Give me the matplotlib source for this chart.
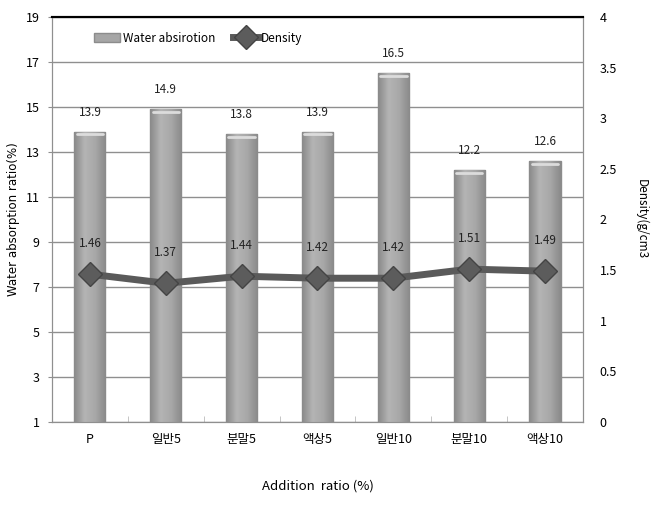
import matplotlib.pyplot as plt
import numpy as np
from matplotlib.colors import LinearSegmentedColormap

plt.rcParams['font.family'] = ['Noto Sans CJK KR', 'DejaVu Sans']

categories = ['P', '일반5', '분말5', '액상5', '일반10', '분말10', '액상10']
water_abs  = [13.9, 14.9, 13.8, 13.9, 16.5, 12.2, 12.6]
density    = [1.46, 1.37, 1.44, 1.42, 1.42, 1.51, 1.49]

fig = plt.figure(figsize=(6.51, 5.05), dpi=100)
ax = fig.add_axes([0.0799, 0.1644, 0.8156, 0.8019])
ax2 = ax.twinx()

x = np.arange(len(categories))
base = 1
barWidth = 0.41
bars = ax.bar(x, np.array(water_abs) - base, bottom=base, width=barWidth,
              color='#a6a6a6', edgecolor='#8c8c8c', linewidth=1,
              label='Water absirotion', zorder=3)

# cylinder-ish shading on each bar
cyl = LinearSegmentedColormap.from_list('cyl', ['#8a8a8a', '#b4b4b4', '#a8a8a8', '#8a8a8a'])
grad = np.linspace(0, 1, 64).reshape(1, -1)
for b in bars:
  x0, y0 = b.get_x(), b.get_y()
  im = ax.imshow(grad, extent=[x0, x0 + b.get_width(), y0, y0 + b.get_height()],
                 aspect='auto', cmap=cyl, zorder=3.1, interpolation='bicubic')
  im.set_clip_path(b)
  # light top cap
  ax.plot([x0 + 0.03, x0 + b.get_width() - 0.03], [y0 + b.get_height() - 0.12] * 2,
          color='#dcdcdc', linewidth=2, solid_capstyle='round', zorder=3.2)

for xi, v in zip(x, water_abs):
  ax.annotate(f'{v:.1f}', (xi, v), xytext=(0, 14), textcoords='offset points',
              ha='center', va='center', fontsize=8.5, color='#222222', zorder=5)

ax.set_xlim(-0.5, len(categories) - 0.5)
ax.set_ylim(1, 19)
ax.set_yticks(np.arange(1, 20, 2))
ax.yaxis.grid(True, color='#8f8f8f', linewidth=1, zorder=0)
ax.set_axisbelow(True)
ax.set_xticks(x)
ax.set_xticklabels(categories, fontsize=9)
ax.set_xticks(np.arange(0.5, len(categories) - 0.5, 1), minor=True)
ax.tick_params(axis='x', which='major', length=0, pad=8)
ax.tick_params(axis='x', which='minor', direction='in', length=4, color='#bbbbbb')
ax.tick_params(axis='y', length=3, color='#8f8f8f', labelsize=9, pad=6)
for s in ['left', 'right', 'bottom']:
  ax.spines[s].set_color('#8f8f8f')
ax.spines['top'].set_color('black')
ax.spines['top'].set_linewidth(1.5)
ax.set_xlabel('Addition  ratio (%)', fontsize=9.5, labelpad=24)
ax.set_ylabel('Water absorption ratio(%)', fontsize=8.5, labelpad=4, family='DejaVu Sans')

line, = ax2.plot(x, density, color='#5a5a5a', linewidth=5, marker='D',
                 markersize=12, markerfacecolor='#5c5c5c', markeredgecolor='#444444',
                 label='Density', zorder=4)
for xi, v in zip(x, density):
  ax2.annotate(f'{v:.2f}', (xi, v), xytext=(0, 22), textcoords='offset points',
               ha='center', va='center', fontsize=8.5, color='#222222')
ax2.set_ylim(0, 4)
ax2.set_yticks(np.arange(0, 4.01, 0.5))
ax2.set_yticklabels(['0', '0.5', '1', '1.5', '2', '2.5', '3', '3.5', '4'])
ax2.tick_params(axis='y', length=0, labelsize=9, pad=12)
for s in ['left', 'right', 'bottom']:
  ax2.spines[s].set_color('#8f8f8f')
ax2.spines['top'].set_color('black')
ax2.spines['top'].set_linewidth(1.5)
ax2.set_ylabel('Density(g/cm3', fontsize=8.5, rotation=270, labelpad=22)

ax2.legend([bars, line], ['Water absirotion', 'Density'], loc='center left',
           bbox_to_anchor=(0.06, 0.948), ncol=2, frameon=False, fontsize=8.5,
           handlelength=2.2, handletextpad=0.2, columnspacing=1.5)

plt.savefig('out.png', dpi=100)
